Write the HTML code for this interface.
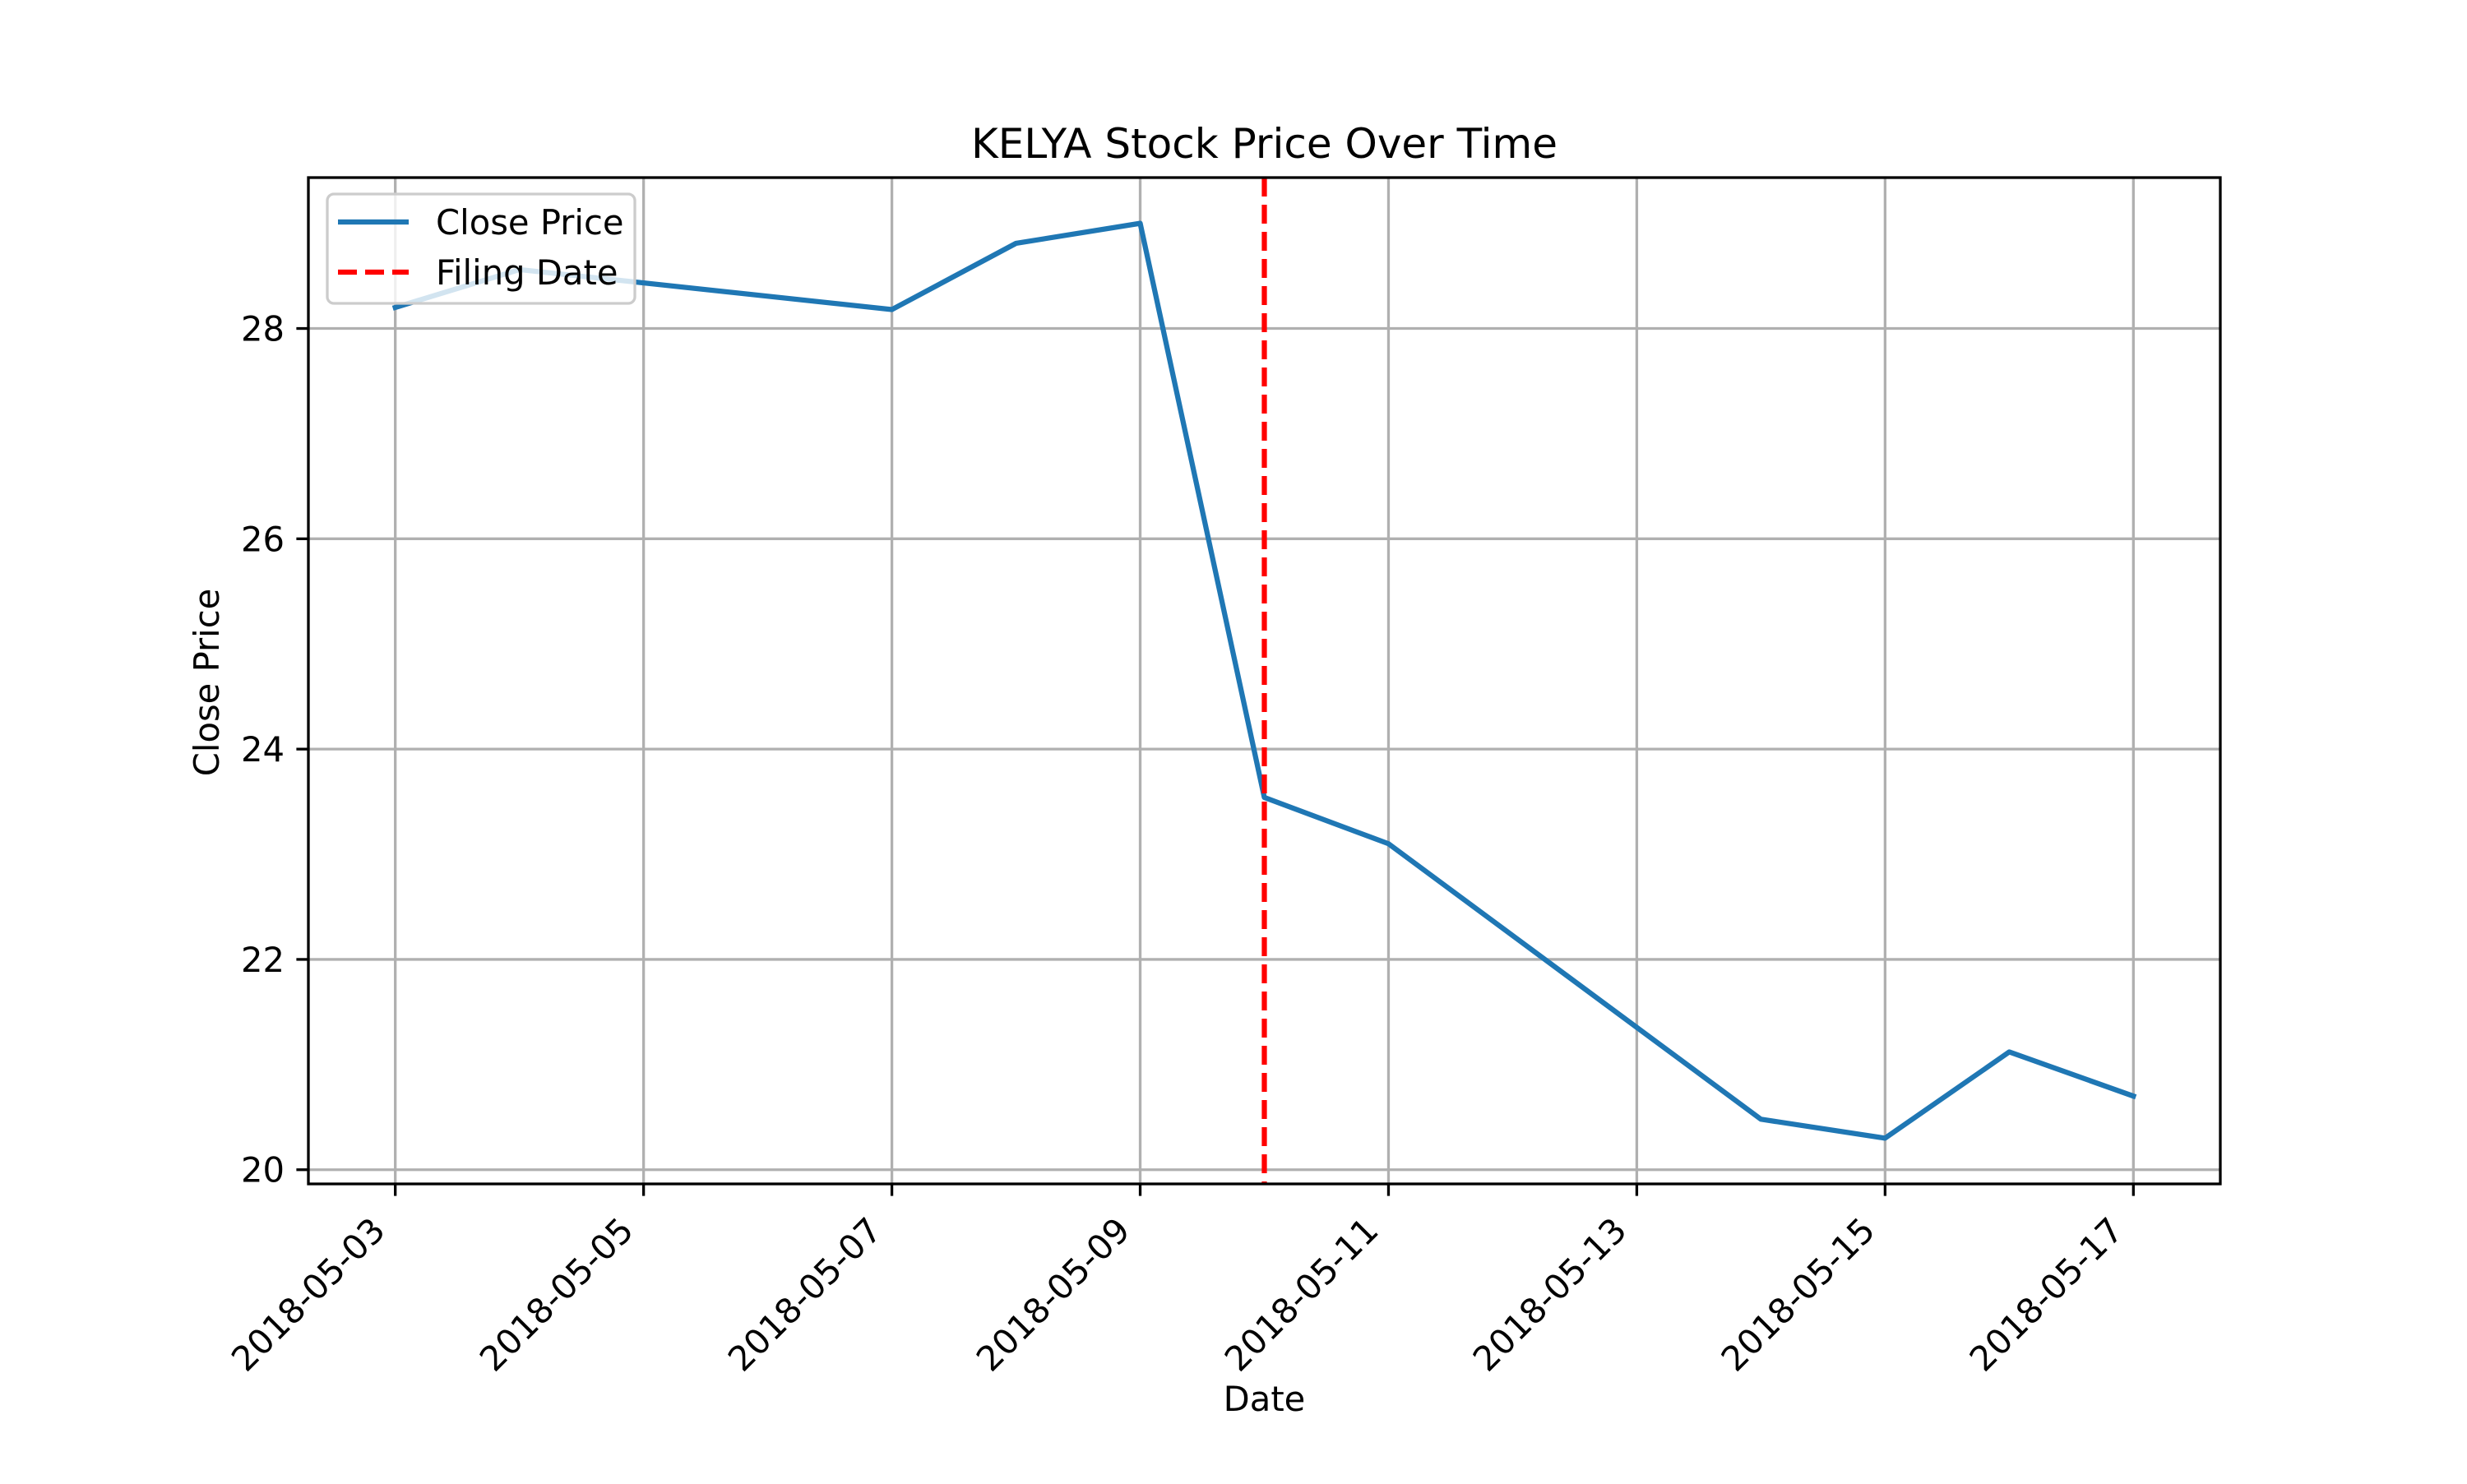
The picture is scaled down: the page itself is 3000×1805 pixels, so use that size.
<!DOCTYPE html>
<html><head><meta charset="utf-8"><style>
html,body{margin:0;padding:0;background:#fff;}
svg text{font-family:"DejaVu Sans","Liberation Sans",sans-serif;fill:#000;}
</style></head><body>
<svg id="chart" width="3000" height="1800" viewBox="0 0 3000 1800" xmlns="http://www.w3.org/2000/svg">
<rect x="0" y="0" width="3000" height="1800" fill="#fff"/>
<g id="grid"></g>
<g id="series"></g>
<g id="axes"></g>
<text x="1537.5" y="192" font-size="50" text-anchor="middle">KELYA Stock Price Over Time</text>
<text x="1537.5" y="1716" font-size="41.7" text-anchor="middle">Date</text>
<text transform="translate(266,830) rotate(-90)" font-size="41.7" text-anchor="middle">Close Price</text>
<g>
<rect x="398" y="236" width="374" height="133" rx="8" fill="#fff" fill-opacity="0.8" stroke="#cccccc" stroke-width="3.3"/>
<line x1="411" y1="270" x2="497" y2="270" stroke="#1f77b4" stroke-width="6.25"/>
<text x="530" y="285" font-size="41.7">Close Price</text>
<line x1="411" y1="331" x2="497" y2="331" stroke="#ff0000" stroke-width="6.25" stroke-dasharray="23,10"/>
<text x="530" y="346" font-size="41.7">Filing Date</text>
</g>
</svg>
<script>
const dateLabels = ["2018-05-03","2018-05-04","2018-05-07","2018-05-08","2018-05-09","2018-05-10","2018-05-11","2018-05-14","2018-05-15","2018-05-16","2018-05-17"];
const dayOffsets = [0,1,4,5,6,7,8,11,12,13,14];
const closePrices = [28.20,28.56,28.18,28.81,29.00,23.54,23.10,20.48,20.30,21.12,20.70];
const filingDay = [7];
const xTickLabels = ["2018-05-03","2018-05-05","2018-05-07","2018-05-09","2018-05-11","2018-05-13","2018-05-15","2018-05-17"];
const xTickDays = [0,2,4,6,8,10,12,14];
const yTickValues = [20,22,24,26,28];

const L=375,R=2700,T=216,B=1440;
const xMin=-0.7,xMax=14.7;
const yMin=Math.min(...closePrices), yMax=Math.max(...closePrices);
const yPad=(yMax-yMin)*0.05, y0=yMin-yPad, y1=yMax+yPad;
const X=d=>L+(d-xMin)/(xMax-xMin)*(R-L);
const Y=v=>B-(v-y0)/(y1-y0)*(B-T);
const NS="http://www.w3.org/2000/svg";
function mk(tag,attrs,parent){const e=document.createElementNS(NS,tag);for(const k in attrs)e.setAttribute(k,attrs[k]);parent.appendChild(e);return e;}
const grid=document.getElementById('grid'),series=document.getElementById('series'),axes=document.getElementById('axes');

xTickDays.forEach((d,i)=>{
  const x=X(d);
  const g=mk('line',{x1:x,y1:T,x2:x,y2:B,stroke:'#b0b0b0','stroke-width':3.3},grid);
  
  
  const t=mk('line',{x1:x,y1:B,x2:x,y2:B+14.6,stroke:'#000','stroke-width':3.3},axes);
  
  
  const lb=mk('text',{x:0,y:0,'font-size':41.7,'text-anchor':'end',transform:`translate(${x-10},1499) rotate(-45)`},axes);
  lb.textContent=xTickLabels[i];
  
  
});
yTickValues.forEach(v=>{
  const y=Y(v);
  const g=mk('line',{x1:L,y1:y,x2:R,y2:y,stroke:'#b0b0b0','stroke-width':3.3},grid);
  
  
  const t=mk('line',{x1:L-14.6,y1:y,x2:L,y2:y,stroke:'#000','stroke-width':3.3},axes);
  
  
  const lb=mk('text',{x:L-29,y:y+15,'font-size':41.7,'text-anchor':'end'},axes);
  lb.textContent=String(v);
  
  
});
const pts=dayOffsets.map((d,i)=>X(d)+','+Y(closePrices[i])).join(' ');
const pl=mk('polyline',{points:pts,fill:'none',stroke:'#1f77b4','stroke-width':6.25,'stroke-linejoin':'round','stroke-linecap':'square'},series);


const fx=X(filingDay[0]);
const fl=mk('line',{x1:fx,y1:T,x2:fx,y2:B,stroke:'#ff0000','stroke-width':6.25,'stroke-dasharray':'23,10'},series);


const fr=mk('rect',{x:L,y:T,width:R-L,height:B-T,fill:'none',stroke:'#000','stroke-width':3.3},axes);


</script>
</body></html>
